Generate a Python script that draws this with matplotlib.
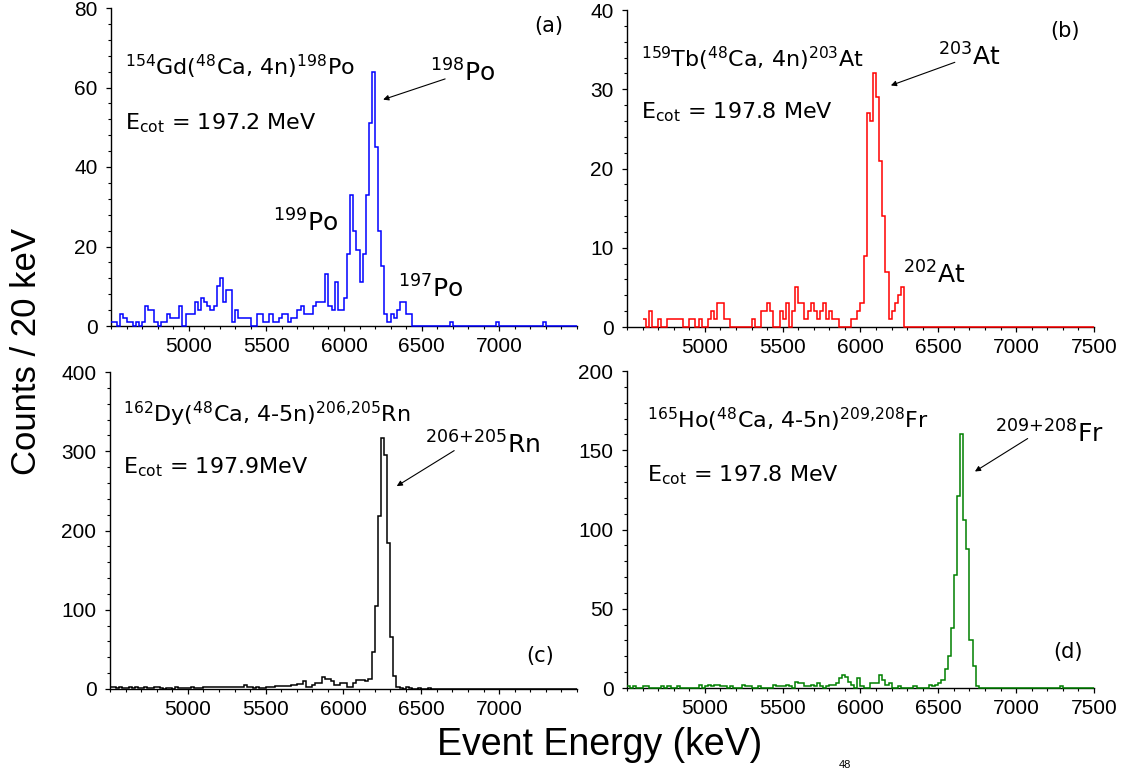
import matplotlib
matplotlib.use("Agg")
import matplotlib.pyplot as plt
from matplotlib.ticker import MultipleLocator, FixedLocator
import numpy as np

# ---------------- data (counts per 20 keV bin) ----------------
bin_width = 20

start_a = 4500
counts_a = [1, 1, 0, 3, 2, 1, 1, 0, 1, 0,
            1, 5, 4, 4, 1, 0, 1, 1, 3, 2,
            2, 2, 5, 0, 3, 3, 3, 6, 4, 7,
            6, 5, 4, 5, 10, 12, 6, 9, 9, 1,
            4, 2, 2, 2, 2, 0, 0, 3, 3, 1,
            1, 3, 1, 1, 2, 3, 3, 1, 2, 2,
            4, 5, 3, 3, 3, 5, 6, 6, 6, 13,
            5, 4, 11, 4, 4, 7, 18, 33, 24, 19,
            11, 18, 33, 51, 64, 45, 24, 15, 3, 1,
            3, 2, 4, 6, 6, 3, 3, 0, 0, 0,
            0, 0, 0, 0, 0, 0, 0, 0, 0, 1,
            0, 0, 0, 0, 0, 0, 0, 0, 0, 0,
            0, 0, 0, 0, 1, 0, 0, 0, 0, 0,
            0, 0, 0, 0, 0, 0, 0, 0, 0, 1,
            0, 0, 0, 0, 0, 0, 0, 0, 0, 0]

start_b = 4600
counts_b = [1, 0, 2, 0, 0,
            1, 0, 0, 1, 1, 1, 1, 1, 0, 0,
            1, 1, 0, 1, 0, 0, 1, 2, 1, 3,
            3, 1, 1, 0, 0, 0, 0, 0, 0, 0,
            1, 0, 0, 2, 2, 3, 2, 0, 0, 2,
            1, 3, 0, 2, 5, 3, 3, 1, 2, 3,
            2, 1, 2, 3, 1, 2, 1, 1, 0, 0,
            0, 0, 1, 1, 2, 3, 9, 27, 26, 32,
            29, 21, 14, 7, 1, 2, 3, 4, 5, 0,
            0, 0, 0, 0, 0, 0, 0, 0, 0, 0,
            0, 0, 0, 0, 0, 0, 0, 0, 0, 0,
            0, 0, 0, 0, 0, 0, 0, 0, 0, 0,
            0, 0, 0, 0, 0, 0, 0, 0, 0, 0,
            0, 0, 0, 0, 0, 0, 0, 0, 0, 0,
            0, 0, 0, 0, 0, 0, 0, 0, 0, 0]

start_c = 4500
counts_c = [2, 2, 1, 2, 1, 1, 2, 1, 2, 1,
            1, 2, 1, 1, 3, 2, 1, 0, 1, 1,
            0, 2, 1, 1, 1, 1, 2, 1, 1, 1,
            2, 3, 2, 3, 3, 2, 2, 3, 2, 3,
            2, 3, 2, 5, 2, 2, 1, 2, 1, 1,
            3, 3, 3, 4, 4, 4, 4, 4, 5, 5,
            6, 6, 10, 2, 2, 5, 7, 7, 15, 12,
            13, 10, 5, 5, 7, 7, 3, 3, 7, 11,
            11, 11, 10, 12, 47, 105, 218, 317, 295, 184,
            65, 17, 3, 1, 0, 2, 1, 0, 0, 1,
            0, 0, 1, 0, 0, 0, 0, 0, 0, 0,
            0, 0, 0, 0, 0, 0, 0, 0, 0, 0,
            0, 0, 0, 0, 0, 0, 0, 0, 0, 0,
            0, 0, 0, 0, 0, 0, 0, 0, 0, 0,
            0, 0, 0, 0, 0, 0, 0, 0, 0, 0]

start_d = 4500
counts_d = [1, 0, 1, 0, 0, 1, 1, 0, 0, 0,
            0, 1, 0, 1, 0, 0, 1, 0, 0, 0,
            0, 0, 0, 2, 0, 1, 2, 1, 2, 2,
            1, 1, 0, 1, 0, 0, 0, 2, 1, 1,
            0, 0, 1, 0, 0, 0, 0, 2, 1, 1,
            1, 2, 1, 0, 4, 3, 3, 1, 1, 2,
            1, 3, 1, 0, 1, 2, 2, 3, 6, 8,
            7, 4, 2, 0, 6, 1, 0, 0, 3, 3,
            3, 8, 5, 2, 3, 0, 0, 1, 0, 0,
            0, 0, 1, 0, 0, 0, 0, 2, 1, 2,
            3, 5, 12, 20, 38, 71, 121, 160, 106, 88,
            30, 14, 1, 0, 0, 0, 0, 0, 0, 0,
            0, 0, 0, 0, 0, 0, 0, 0, 0, 0,
            0, 0, 0, 0, 0, 0, 0, 0, 0, 1,
            0, 0, 0, 0, 0, 0, 0, 0, 0, 0]

xticks_ac = [5000, 5500, 6000, 6500, 7000]
xticks_bd = [5000, 5500, 6000, 6500, 7000, 7500]
yticks_a = [0, 20, 40, 60, 80]
yticks_b = [0, 10, 20, 30, 40]
yticks_c = [0, 100, 200, 300, 400]
yticks_d = [0, 50, 100, 150, 200]

reaction_a = r'$^{\mathrm{154}}$Gd($^{\mathrm{48}}$Ca, 4n)$^{\mathrm{198}}$Po'
reaction_b = r'$^{\mathrm{159}}$Tb($^{\mathrm{48}}$Ca, 4n)$^{\mathrm{203}}$At'
reaction_c = r'$^{\mathrm{162}}$Dy($^{\mathrm{48}}$Ca, 4-5n)$^{\mathrm{206{,}205}}$Rn'
reaction_d = r'$^{\mathrm{165}}$Ho($^{\mathrm{48}}$Ca, 4-5n)$^{\mathrm{209{,}208}}$Fr'
energy_a = r'E$_{\mathrm{cot}}$ = 197.2 MeV'
energy_b = r'E$_{\mathrm{cot}}$ = 197.8 MeV'
energy_c = r'E$_{\mathrm{cot}}$ = 197.9MeV'
energy_d = r'E$_{\mathrm{cot}}$ = 197.8 MeV'
peak_a = r'$^{\mathrm{198}}$Po'
peak_b = r'$^{\mathrm{203}}$At'
peak_c = r'$^{\mathrm{206{+}205}}$Rn'
peak_d = r'$^{\mathrm{209{+}208}}$Fr'
side_a1 = r'$^{\mathrm{199}}$Po'
side_a2 = r'$^{\mathrm{197}}$Po'
side_b1 = r'$^{\mathrm{202}}$At'

# ---------------- figure ----------------
plt.rcParams['font.family'] = ['Liberation Sans', 'DejaVu Sans']
plt.rcParams['mathtext.fontset'] = 'dejavusans'

W, H = 1124, 771
fig = plt.figure(figsize=(W / 100, H / 100), dpi=100)

ANN = ['DejaVu Sans']


def add_ax(l, t, r, b):
    return fig.add_axes([l / W, 1 - b / H, (r - l) / W, (b - t) / H])


panels = [
    dict(rect=(111, 8, 577, 326), start=start_a, counts=counts_a, color='#0000ff',
         ymax=80, yticks=yticks_a, yminor=4, xticks=xticks_ac,
         reaction=reaction_a, rpos=(0.030, 0.789), energy=energy_a, epos=(0.030, 0.619),
         tag='(a)', tpos=(0.908, 0.925), peak=peak_a, ppos=(0.685, 0.767),
         arrow=((0.717, 0.777), (0.584, 0.712)),
         extra=[(side_a1, (0.348, 0.296)), (side_a2, (0.616, 0.088))]),
    dict(rect=(627, 10, 1094, 327), start=start_b, counts=counts_b, color='#ff0000',
         ymax=40, yticks=yticks_b, yminor=2, xticks=xticks_bd,
         reaction=reaction_b, rpos=(0.029, 0.821), energy=energy_b, epos=(0.029, 0.658),
         tag='(b)', tpos=(0.906, 0.916), peak=peak_b, ppos=(0.667, 0.826),
         arrow=((0.702, 0.835), (0.565, 0.762)),
         extra=[(side_b1, (0.590, 0.136))]),
    dict(rect=(110, 372, 577, 689), start=start_c, counts=counts_c, color='#000000',
         ymax=400, yticks=yticks_c, yminor=20, xticks=xticks_ac,
         reaction=reaction_c, rpos=(0.027, 0.843), energy=energy_c, epos=(0.027, 0.680),
         tag='(c)', tpos=(0.891, 0.086), peak=peak_c, ppos=(0.675, 0.744),
         arrow=((0.737, 0.752), (0.614, 0.640)),
         extra=[]),
    dict(rect=(627, 371, 1094, 688), start=start_d, counts=counts_d, color='#008000',
         ymax=200, yticks=yticks_d, yminor=10, xticks=xticks_bd,
         reaction=reaction_d, rpos=(0.042, 0.819), energy=energy_d, epos=(0.042, 0.653),
         tag='(d)', tpos=(0.912, 0.094), peak=peak_d, ppos=(0.788, 0.775),
         arrow=((0.858, 0.787), (0.745, 0.683)),
         extra=[]),
]

for p in panels:
    ax = add_ax(*p['rect'])
    counts = np.asarray(p['counts'], dtype=float)
    edges = p['start'] + bin_width * np.arange(len(counts) + 1)
    ax.stairs(counts, edges, baseline=None, color=p['color'], lw=1.1,
              zorder=3, clip_on=False)
    ax.set_xlim(4500, 7500)
    ax.set_ylim(0, p['ymax'])
    ax.xaxis.set_major_locator(FixedLocator(p['xticks']))
    ax.xaxis.set_minor_locator(MultipleLocator(100))
    ax.yaxis.set_major_locator(FixedLocator(p['yticks']))
    ax.yaxis.set_minor_locator(MultipleLocator(p['yminor']))
    for s in ('top', 'right'):
        ax.spines[s].set_visible(False)
    for s in ('left', 'bottom'):
        ax.spines[s].set_linewidth(1.0)
    ax.tick_params(which='major', direction='out', length=3.8, width=0.9,
                   labelsize=15, pad=4)
    ax.tick_params(axis='y', which='major', pad=6)
    ax.tick_params(which='minor', direction='out', length=2.2, width=0.8)

    ax.text(*p['rpos'], p['reaction'], transform=ax.transAxes, fontsize=16,
            family=ANN, va='baseline', ha='left')
    ax.text(*p['epos'], p['energy'], transform=ax.transAxes, fontsize=16,
            family=ANN, va='baseline', ha='left')
    ax.text(*p['tpos'], p['tag'], transform=ax.transAxes, fontsize=15,
            family=ANN, va='baseline', ha='left')
    ax.text(*p['ppos'], p['peak'], transform=ax.transAxes, fontsize=18,
            family=ANN, va='baseline', ha='left')
    for txt, pos in p['extra']:
        ax.text(*pos, txt, transform=ax.transAxes, fontsize=18,
                family=ANN, va='baseline', ha='left')
    (tx, ty), (hx, hy) = p['arrow']
    ax.annotate('', xy=(hx, hy), xytext=(tx, ty), xycoords='axes fraction',
                textcoords='axes fraction',
                arrowprops=dict(arrowstyle='-|>', color='black', lw=0.8,
                                mutation_scale=8, shrinkA=0, shrinkB=0))

fig.text(600 / W, 1 - 745 / H, 'Event Energy (keV)', fontsize=27,
         ha='center', va='center')
fig.text(27 / W, 1 - 352 / H, 'Counts / 20 keV', fontsize=25,
         ha='center', va='center', rotation=90)
fig.text(845 / W, 1 - 770 / H, '48', fontsize=8, ha='center', va='bottom')

fig.savefig('out.png', dpi=100)
